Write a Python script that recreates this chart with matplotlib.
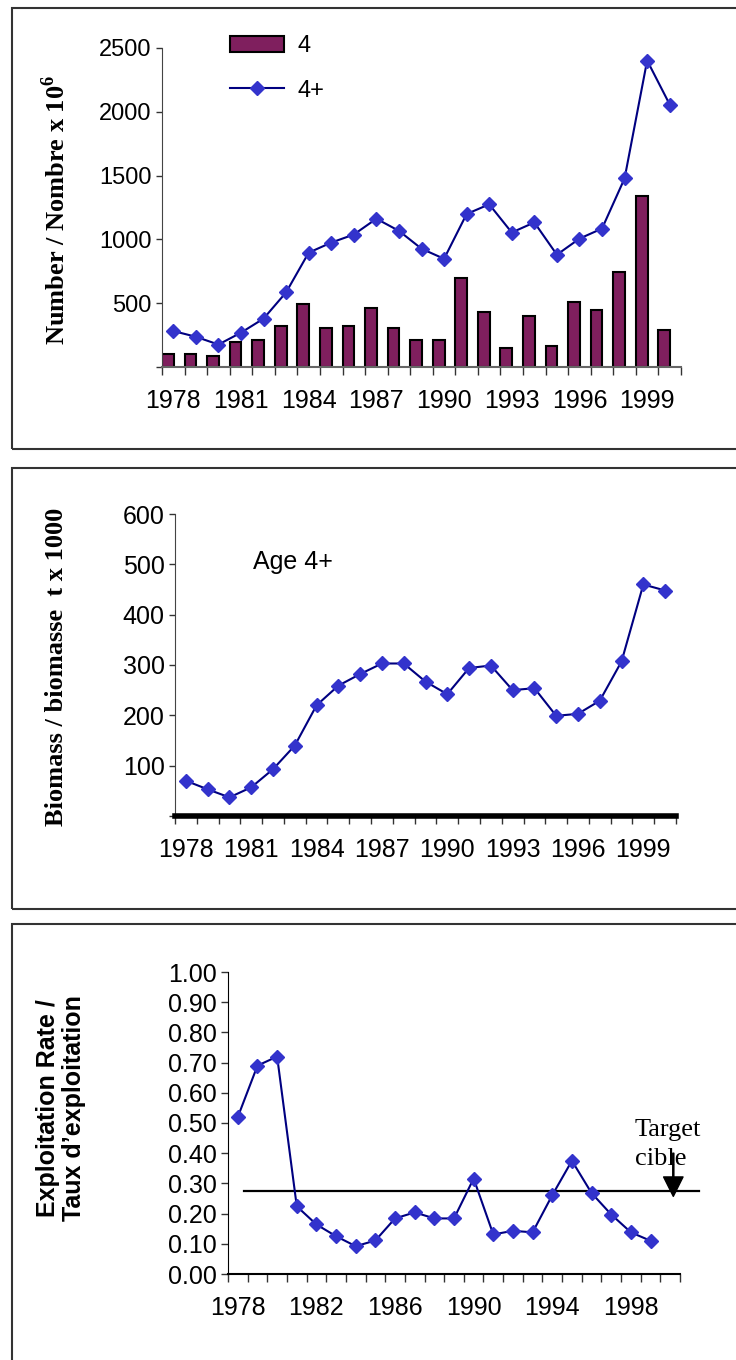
import matplotlib
matplotlib.use("Agg")
import matplotlib.pyplot as plt
from matplotlib.patches import Rectangle, Patch
from matplotlib.lines import Line2D
import numpy as np

# data
years = list(range(1978, 2001))
age4_number = [103, 103, 84, 198, 211, 321, 493, 303, 321, 461, 303, 211, 211,
               698, 429, 145, 398, 161, 508, 445, 743, 1338, 287]
age4plus_number = [282, 237, 176, 269, 379, 585, 896, 975, 1038, 1162, 1067, 927, 848,
                   1199, 1275, 1054, 1133, 880, 1006, 1085, 1478, 2402, 2057]
biomass_4plus = [70, 53, 37, 57, 93, 140, 220, 259, 282, 303, 303, 267, 242,
                 294, 299, 250, 254, 199, 203, 229, 307, 460, 448]
expl_years = list(range(1978, 2000))
expl_rate = [0.52, 0.69, 0.72, 0.224, 0.164, 0.125, 0.092, 0.111, 0.184, 0.204, 0.184,
             0.184, 0.316, 0.131, 0.143, 0.138, 0.261, 0.375, 0.268, 0.197, 0.138, 0.110]
target_rate = 0.275

BAR = '#7f1f5e'
MARK = '#3333cc'
LINE = '#000080'
SANS = ['Liberation Sans', 'DejaVu Sans']
SERIF = ['Liberation Serif', 'DejaVu Serif']

plt.rcParams['font.family'] = SANS
plt.rcParams['mathtext.fontset'] = 'custom'
plt.rcParams['mathtext.rm'] = 'Liberation Serif:bold'
plt.rcParams['mathtext.bf'] = 'Liberation Serif:bold'

W, H = 736, 1360
fig = plt.figure(figsize=(W / 100, H / 100), dpi=100)


def fig_axes(x0, y0, x1, y1):
    # pixel box (top-left origin) -> figure fractions
    return fig.add_axes([x0 / W, 1 - y1 / H, (x1 - x0) / W, (y1 - y0) / H])


def frame_box(x0, y0, x1, y1):
    fig.patches.append(Rectangle((x0 / W, 1 - y1 / H), (x1 - x0) / W, (y1 - y0) / H,
                                 transform=fig.transFigure, fill=False,
                                 edgecolor='#333333', linewidth=1.5))


def style_axis(ax, n, step, fs_y, fs_x, ytick_len=4.5):
    ax.spines['top'].set_visible(False)
    ax.spines['right'].set_visible(False)
    ax.spines['left'].set_color('#444444')
    ax.set_xlim(-0.5, n - 0.5)
    ax.set_xticks(np.arange(n + 1) - 0.5)
    ax.set_xticklabels([])
    ax.set_xticks(np.arange(0, n, step), minor=True)
    ax.set_xticklabels([str(years[i]) for i in range(0, n, step)], minor=True)
    ax.tick_params(axis='x', which='major', length=6, width=1, color='#333333', direction='out')
    ax.tick_params(axis='x', which='minor', length=0, pad=16, labelsize=fs_x)
    ax.tick_params(axis='y', length=ytick_len, width=1, color='#333333', direction='out',
                   labelsize=fs_y, pad=3)


# ---------------- panel 1: numbers ----------------
frame_box(12, 8, 760, 449)
ax1 = fig_axes(162, 48, 681, 367)
x = np.arange(len(years))
ax1.bar(x - 0.5, age4_number, width=0.52, align='edge', color=BAR,
        edgecolor='black', linewidth=1.5, zorder=2)
ax1.plot(x, age4plus_number, color=LINE, linewidth=1.5, marker='D', markersize=7,
         markerfacecolor=MARK, markeredgecolor=MARK, zorder=3)
ax1.set_ylim(0, 2500)
ax1.set_yticks(range(0, 2501, 500))
ax1.set_yticklabels([''] + [str(v) for v in range(500, 2501, 500)])
style_axis(ax1, len(years), 3, 17, 18)
ax1.spines['bottom'].set_color('#666666')
ax1.spines['bottom'].set_linewidth(1.5)
handles = [Patch(facecolor=BAR, edgecolor='black', linewidth=1.5, label='4'),
           Line2D([0], [0], color=LINE, linewidth=1.5, marker='D', markersize=7,
                  markerfacecolor=MARK, markeredgecolor=MARK, label='4+')]
ax1.legend(handles=handles, loc='upper left', bbox_to_anchor=(0.131, 1.04),
           frameon=False, fontsize=17, handlelength=2.3, handleheight=0.7,
           handletextpad=0.55, labelspacing=0.95, borderpad=0, borderaxespad=0)
fig.text(56 / W, 1 - 210 / H, 'Number / Nombre x 10$^{6}$', rotation=90,
         ha='center', va='center', fontsize=19, fontweight='bold', family=SERIF)

# ---------------- panel 2: biomass ----------------
frame_box(12, 468, 760, 909)
ax2 = fig_axes(175, 514, 676, 816)
ax2.plot(x, biomass_4plus, color=LINE, linewidth=1.5, marker='D', markersize=7,
         markerfacecolor=MARK, markeredgecolor=MARK, zorder=3, clip_on=False)
ax2.set_ylim(0, 600)
ax2.set_yticks(range(0, 601, 100))
ax2.set_yticklabels([''] + [str(v) for v in range(100, 601, 100)])
style_axis(ax2, len(years), 3, 18, 18)
ax2.spines['bottom'].set_linewidth(4)
ax2.spines['bottom'].set_color('black')
ax2.text(0.156, 0.841, 'Age 4+', transform=ax2.transAxes, ha='left', va='center',
         fontsize=18)
fig.text(57 / W, 1 - 667 / H, 'Biomass / biomasse  t x 1000', rotation=90,
         ha='center', va='center', fontsize=19, fontweight='bold', family=SERIF)

# ---------------- panel 3: exploitation rate ----------------
frame_box(12, 924, 760, 1400)
ax3 = fig_axes(228, 972, 680, 1274)
xe = np.arange(len(expl_years))
ax3.plot(xe, expl_rate, color=LINE, linewidth=1.5, marker='D', markersize=7,
         markerfacecolor=MARK, markeredgecolor=MARK, zorder=3)
ax3.set_ylim(0, 1.0)
ax3.set_yticks(np.arange(0, 1.01, 0.1))
ax3.set_yticklabels([f'{v:.2f}' for v in np.arange(0, 1.01, 0.1)])
style_axis(ax3, len(years), 4, 18, 18, ytick_len=5)
ax3.spines['left'].set_color('black')
ax3.spines['bottom'].set_color('black')
ax3.spines['bottom'].set_linewidth(1.5)
ax3.plot([0.31, 23.45], [target_rate, target_rate], color='black', linewidth=1.6,
         clip_on=False, zorder=2)
ax3.annotate('', xy=(22.16, target_rate - 0.018), xytext=(22.16, 0.40),
             arrowprops=dict(facecolor='black', edgecolor='black', width=0.8,
                             headwidth=14, headlength=14, shrink=0),
             annotation_clip=False)
ax3.text(20.2, 0.428, 'Target\ncible', ha='left', va='center', fontsize=19,
         family=SERIF, linespacing=1.4)
fig.text(61 / W, 1 - 1108 / H, 'Exploitation Rate /\nTaux d\u2019exploitation',
         rotation=90, ha='center', va='center', fontsize=18, fontweight='bold',
         multialignment='center', linespacing=1.15)

fig.savefig('out.png', dpi=100)
